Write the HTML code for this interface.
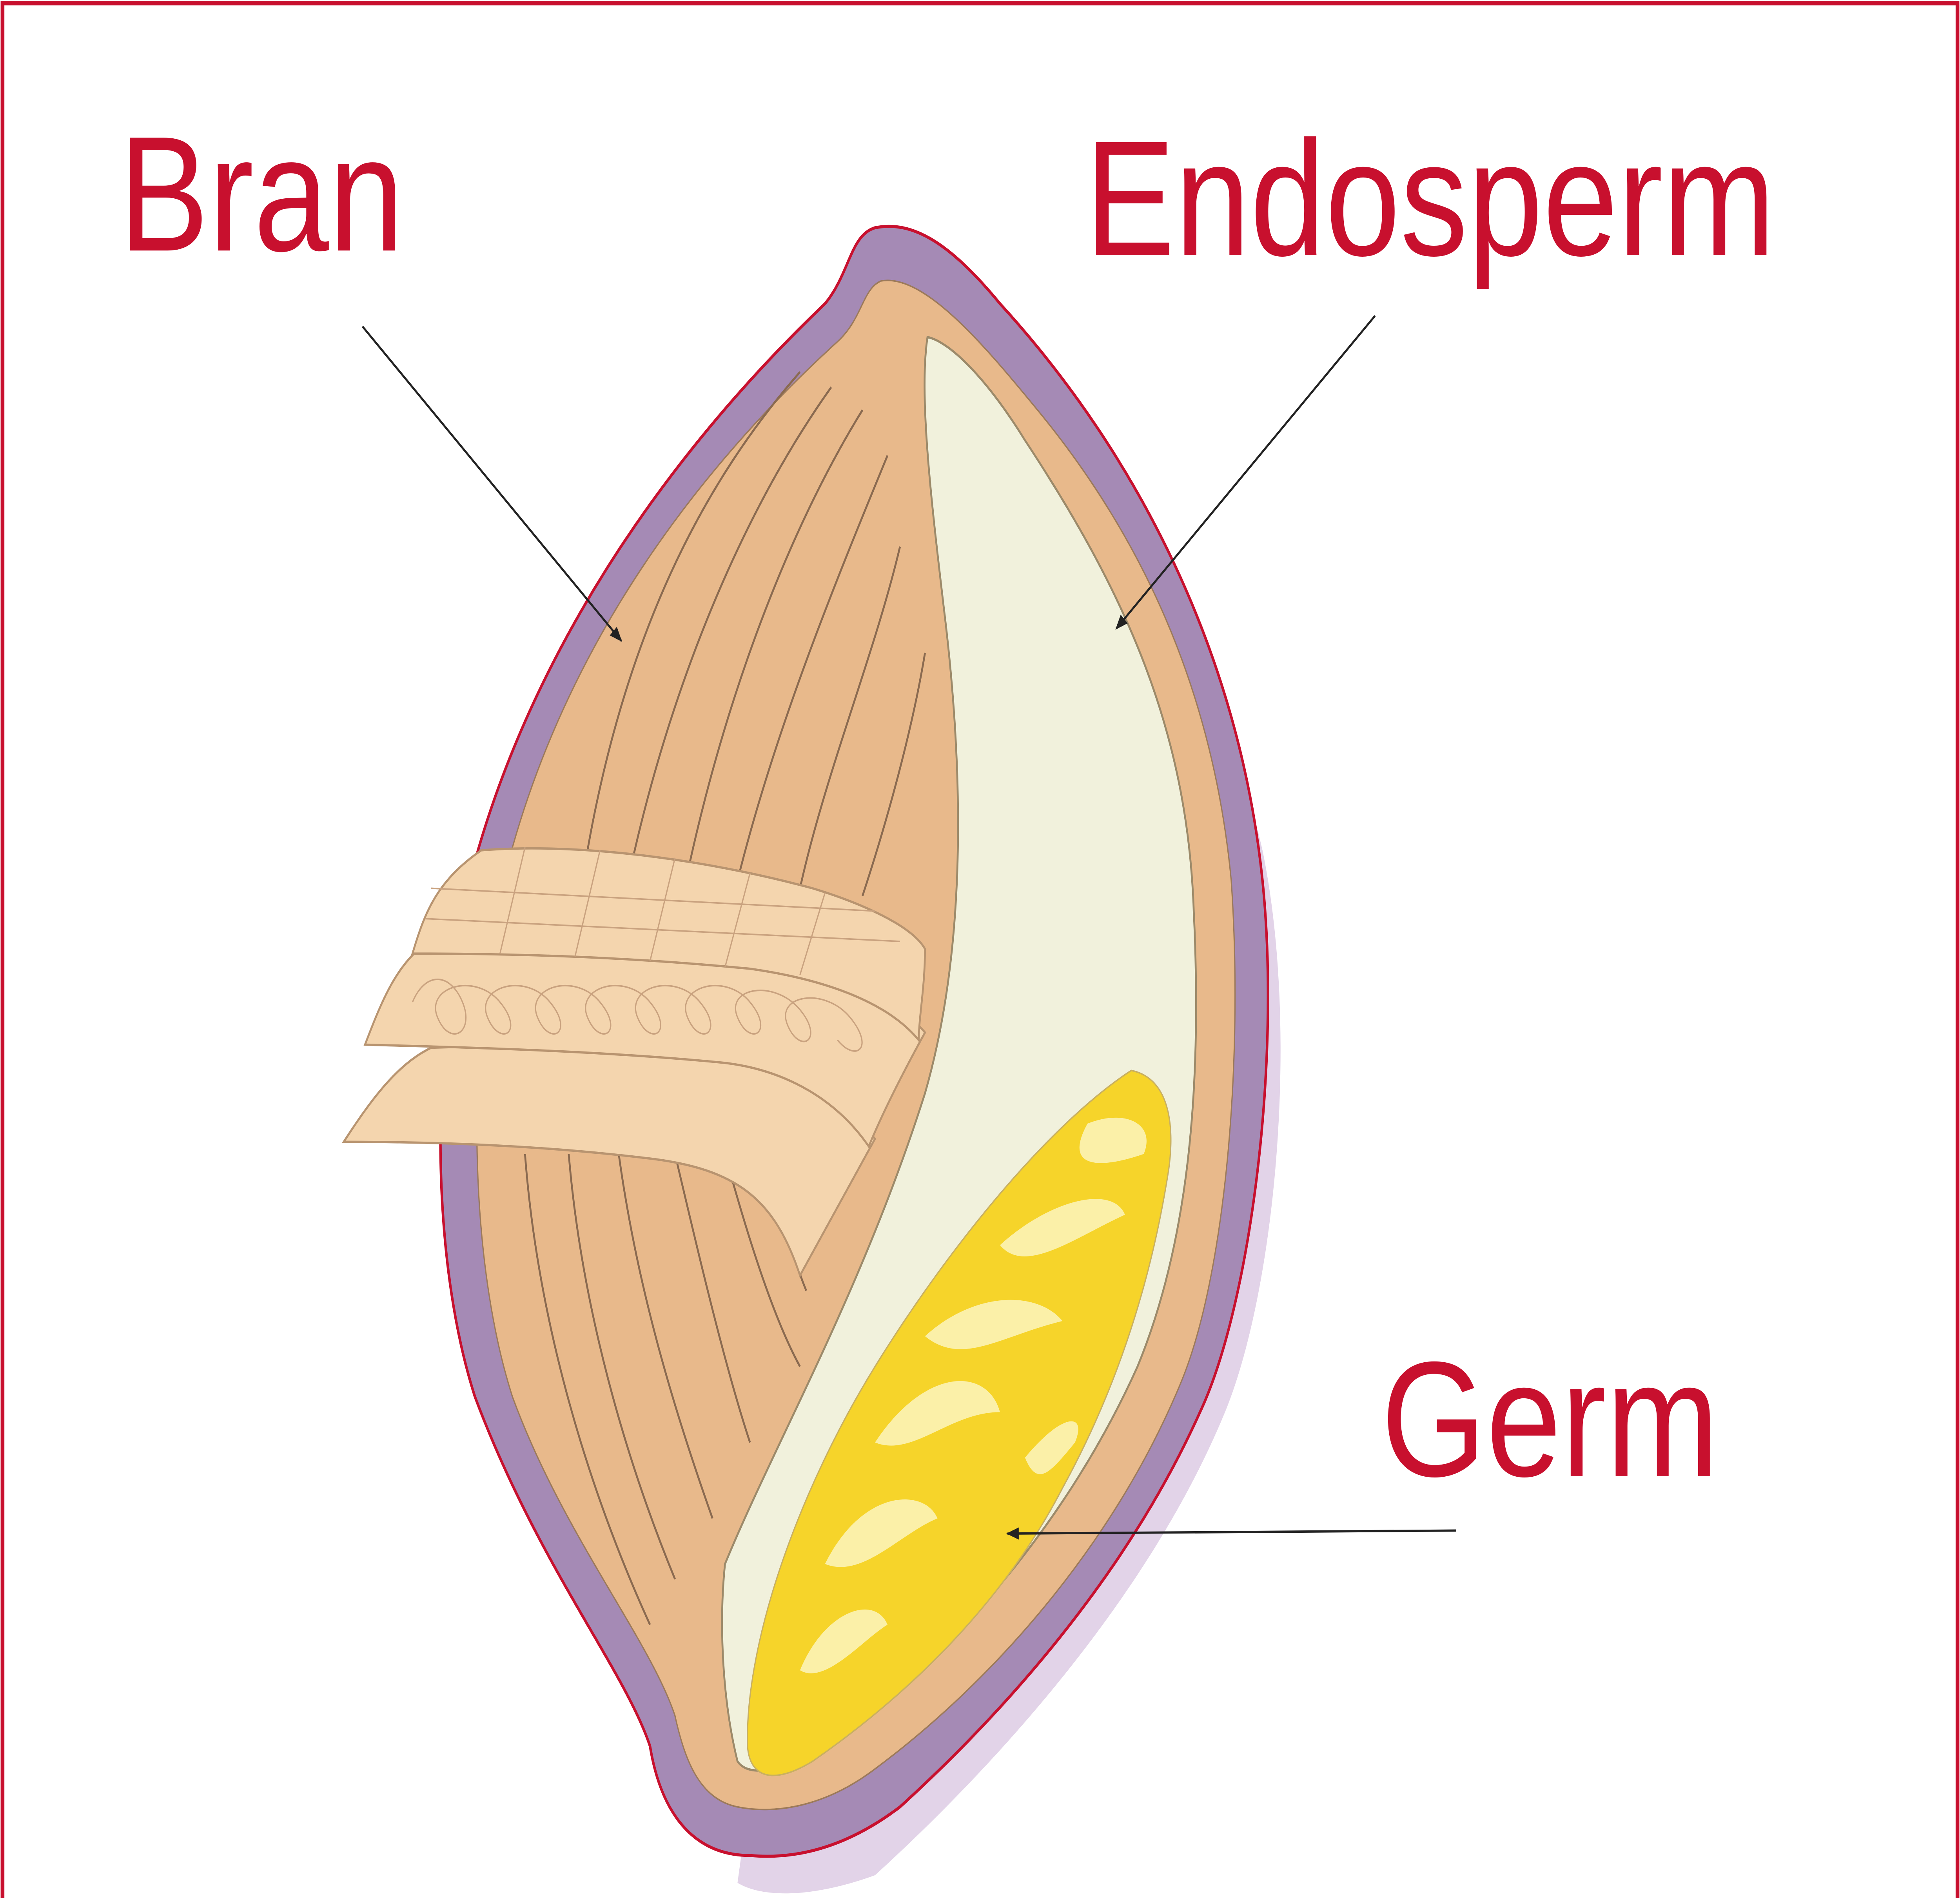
<!DOCTYPE html>
<html><head><meta charset="utf-8"><style>
html,body{margin:0;padding:0;background:#fff;overflow:hidden;width:100%;height:100%;}
svg{display:block;width:100vw;height:100vh;}
</style></head><body>
<svg viewBox="0 0 1568 1250" preserveAspectRatio="none" xmlns="http://www.w3.org/2000/svg">
<defs>
<marker id="ah" markerWidth="10" markerHeight="8" refX="9" refY="4" orient="auto" markerUnits="userSpaceOnUse">
<path d="M0,0 L10,4 L0,8 z" fill="#222"/>
</marker>
</defs>
<rect x="0" y="0" width="1568" height="1250" fill="#fff"/>
<rect x="2" y="2" width="1564" height="1260" fill="none" stroke="#c8102e" stroke-width="3"/>
<path d="M720,180 C800,230 960,380 1010,560 C1040,680 1020,850 980,930 C920,1050 800,1160 700,1235 C650,1250 610,1250 590,1240 L600,1180 Z" fill="#e2d3e8"/>
<path d="M700,150 C730,145 760,160 800,200 C900,290 990,420 1010,580 C1025,700 1000,860 960,930 C900,1040 800,1130 720,1190 C680,1215 640,1225 600,1222 C560,1222 530,1200 520,1150 C500,1100 430,1030 380,920 C345,830 345,700 370,600 C410,450 520,310 660,200 C680,180 680,155 700,150 Z" fill="#a58ab5" stroke="#c8102e" stroke-width="2"/>
<path d="M705,185 C740,180 790,230 830,270 C910,350 970,450 985,580 C995,700 980,840 945,910 C890,1020 790,1110 700,1165 C660,1190 620,1195 590,1190 C560,1185 548,1160 540,1130 C520,1080 450,1010 410,920 C375,830 375,700 395,610 C430,460 530,330 670,225 C690,210 690,190 705,185 Z" fill="#e8b98b" stroke="#9c7a5a" stroke-width="1"/>
<g stroke="#8a6a50" stroke-width="1.5" fill="none">
<path d="M640,245 C560,320 500,420 470,560"/>
<path d="M665,255 C600,330 540,440 505,570"/>
<path d="M690,270 C630,350 580,460 550,575"/>
<path d="M710,300 C670,380 620,480 590,580"/>
<path d="M720,360 C700,430 660,510 640,585"/>
<path d="M740,430 C730,480 710,540 690,590"/>
<path d="M420,760 C430,870 470,980 520,1070"/>
<path d="M455,760 C465,860 500,960 540,1040"/>
<path d="M495,760 C510,850 540,930 570,1000"/>
<path d="M540,760 C560,830 580,900 600,950"/>
<path d="M580,760 C600,820 620,870 640,900"/>
<path d="M615,770 C625,800 635,830 645,850"/>
</g>
<path d="M742,222 C760,225 790,250 820,290 C900,390 950,480 955,600 C962,720 950,820 910,900 C850,1010 750,1100 660,1150 C630,1165 600,1172 590,1160 C578,1120 575,1070 580,1030 C620,950 690,850 740,720 C775,620 770,500 755,400 C745,330 735,260 742,222 Z" fill="#f1f1dc" stroke="#9c8a6a" stroke-width="1.5"/>
<path d="M905,705 C935,710 940,740 935,770 C920,850 890,920 850,980 C800,1060 720,1120 650,1160 C620,1175 600,1172 598,1150 C596,1080 640,980 700,900 C760,820 840,740 905,705 Z" fill="#f6d42a" stroke="#c9b060" stroke-width="1"/>
<g fill="#fbf0a8">
<path d="M870,740 C900,730 925,740 915,760 C880,770 850,770 870,740 Z"/>
<path d="M800,820 C840,790 890,780 900,800 C860,815 820,840 800,820 Z"/>
<path d="M740,880 C780,850 830,850 850,870 C800,880 770,900 740,880 Z"/>
<path d="M700,950 C740,900 790,900 800,930 C760,930 730,960 700,950 Z"/>
<path d="M660,1030 C690,980 740,980 750,1000 C720,1010 690,1040 660,1030 Z"/>
<path d="M640,1100 C660,1060 700,1050 710,1070 C690,1080 660,1110 640,1100 Z"/>
<path d="M820,960 C850,930 870,930 860,950 C840,970 830,980 820,960 Z"/>
</g>
<path d="M275,752 C300,720 320,700 345,690 C420,688 520,690 600,700 C640,705 680,730 700,750 C680,780 660,810 640,840 C620,790 590,770 520,763 C440,755 360,752 275,752 Z" fill="#f4d5ae" stroke="#b89470" stroke-width="1.5"/>
<path d="M292,688 C305,660 315,640 335,625 C420,620 530,625 620,635 C670,640 720,660 740,680 C720,710 705,735 695,755 C670,725 630,705 580,700 C480,692 380,690 292,688 Z" fill="#f4d5ae" stroke="#b89470" stroke-width="1.5"/>
<path d="M330,628 C340,600 350,580 385,560 C460,555 560,565 650,585 C690,595 730,610 740,625 C740,650 735,670 735,685 C710,660 660,645 600,638 C500,630 410,628 330,628 Z" fill="#f4d5ae" stroke="#b89470" stroke-width="1.5"/>
<g stroke="#c9a27f" stroke-width="1" fill="none">
<path d="M345,585 L700,600"/><path d="M340,605 L720,620"/>
<path d="M420,558 L400,628"/><path d="M480,560 L460,630"/><path d="M540,565 L520,633"/><path d="M600,575 L580,637"/><path d="M660,588 L640,642"/>
<path d="M330,660 C340,640 360,640 370,660 C380,680 360,690 350,670 S380,640 400,660 S400,690 390,670 S420,640 440,660 S440,690 430,670 S460,640 480,660 S480,690 470,670 S500,640 520,660 S520,690 510,670 S540,640 560,660 S560,690 550,670 S580,640 600,660 S600,690 590,670 S620,645 640,665 S640,695 630,675 S660,650 680,670 S685,700 670,685"/>
</g>
<g font-family="'Liberation Sans', sans-serif" fill="#c8102e" font-size="108">
<text x="95" y="165">Bran</text>
<text x="868" y="168">Endosperm</text>
<text x="1105" y="972">Germ</text>
</g>
<g stroke="#222" stroke-width="1.5" marker-end="url(#ah)">
<line x1="290" y1="215" x2="497" y2="422"/>
<line x1="1100" y1="208" x2="893" y2="414"/>
<line x1="1165" y1="1008" x2="806" y2="1010"/>
</g>
</svg>
</body></html>
